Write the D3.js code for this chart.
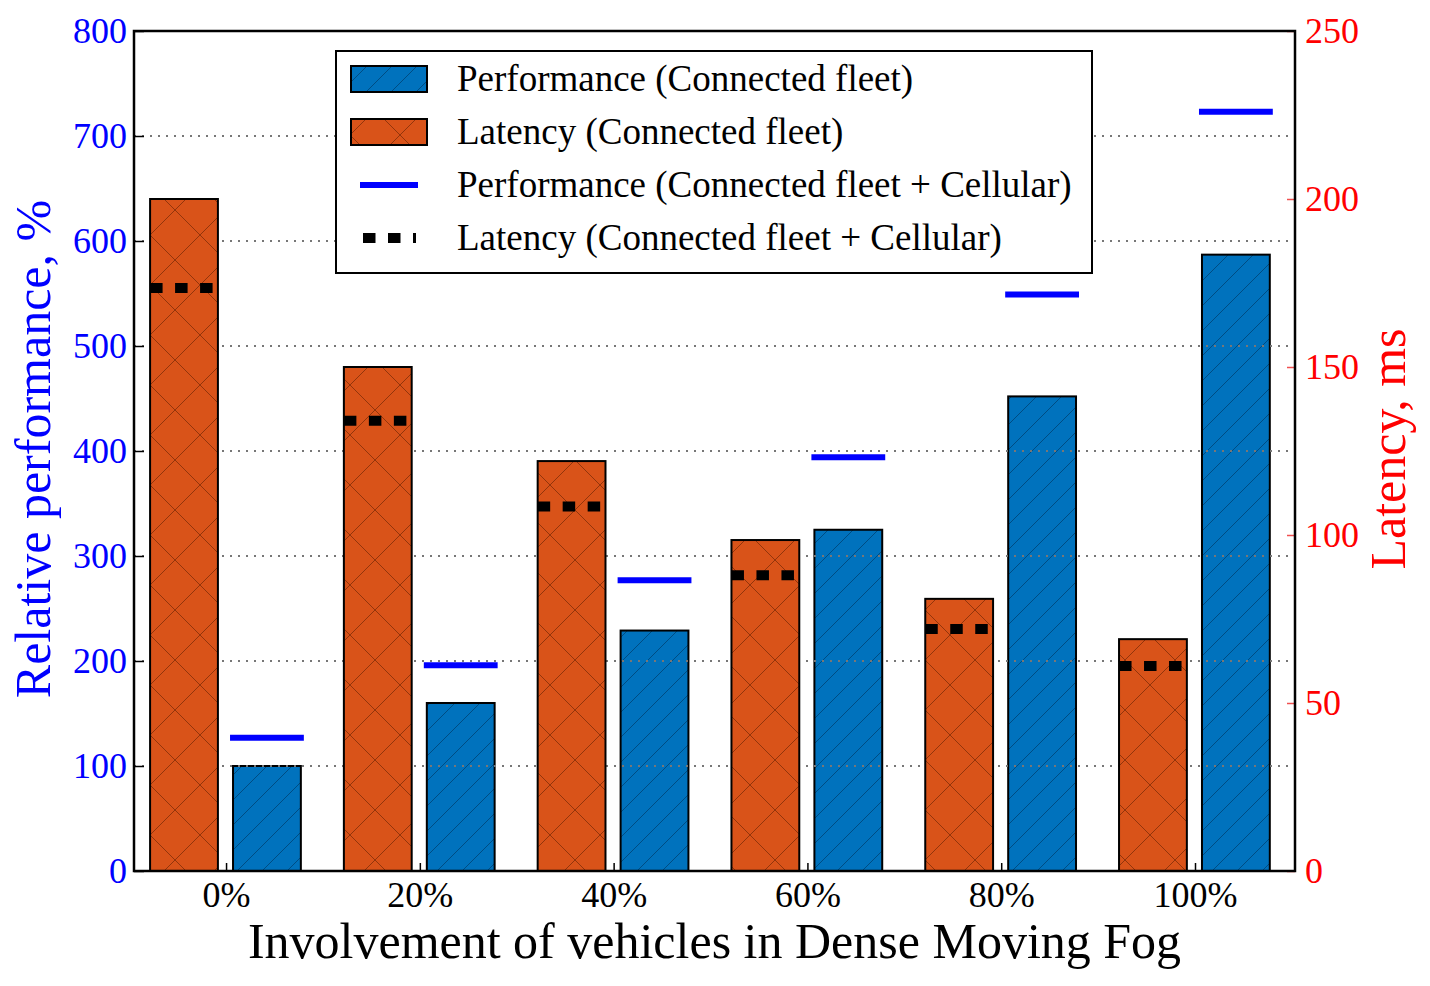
<!DOCTYPE html>
<html><head><meta charset="utf-8">
<script src="https://cdn.jsdelivr.net/npm/d3@7"></script>
<style>
body{margin:0;background:#fff}
svg{display:block}
text{font-family:"Liberation Serif","Times New Roman",serif}
</style>
</head><body>
<svg id="chart" width="1430" height="986"></svg>
<script>
// ---- data ----
const categories = ["0%", "20%", "40%", "60%", "80%", "100%"];
const perfFleet = [100, 160, 229, 325, 452, 587];
const perfCellular = [127, 196, 277, 394, 549, 723];
const latFleet = [200, 150, 122, 98.5, 81, 69];
const latCellular = [173.5, 134, 108.5, 88, 72, 61];
const leftTicks = [0, 100, 200, 300, 400, 500, 600, 700, 800];
const rightTicks = [0, 50, 100, 150, 200, 250];
const gridTicks = [100, 200, 300, 400, 500, 600, 700];
const legendLabels = [
  "Performance (Connected fleet)",
  "Latency (Connected fleet)",
  "Performance (Connected fleet + Cellular)",
  "Latency (Connected fleet + Cellular)"
];
const xTitle = "Involvement of vehicles in Dense Moving Fog";
const yLeftTitle = "Relative performance, %";
const yRightTitle = "Latency, ms";

// ---- style ----
const C_BLUE = "#0072BD", C_ORANGE = "#D95319";
const C_BLUE_HATCH = "#003f6e", C_ORANGE_HATCH = "#7a2a08";
const C_LINE = "#0000FF";

const svg = d3.select("#chart");
const L = 134, R = 1295, T = 31, B = 871;

const idx = categories.map((d, i) => i);
const x = d3.scaleLinear().domain([-0.475, 5.516]).range([L, R]);
const yL = d3.scaleLinear().domain([0, 800]).range([B, T]);
const yR = d3.scaleLinear().domain([0, 250]).range([B, T]);
const barW = x(0.35) - x(0);
const offOrange = -0.392, offBlue = 0.036;

// patterns
const defs = svg.append("defs");
const pB = defs.append("pattern").attr("id", "hatchBlue").attr("patternUnits", "userSpaceOnUse")
  .attr("width", 25).attr("height", 25).attr("x", 8).attr("y", 0);
pB.append("rect").attr("width", 25).attr("height", 25).attr("fill", C_BLUE);
[[-25, 25, 0, 0], [0, 25, 25, 0], [25, 25, 50, 0]].forEach(s =>
  pB.append("line").attr("x1", s[0]).attr("y1", s[1]).attr("x2", s[2]).attr("y2", s[3])
    .attr("stroke", C_BLUE_HATCH).attr("stroke-width", 1).attr("stroke-opacity", 0.75));
const pO = defs.append("pattern").attr("id", "hatchOrange").attr("patternUnits", "userSpaceOnUse")
  .attr("width", 50).attr("height", 50).attr("x", 25).attr("y", 10);
pO.append("rect").attr("width", 50).attr("height", 50).attr("fill", C_ORANGE);
[[0, 50, 50, 0], [-50, 50, 0, 0], [50, 50, 100, 0], [0, 0, 50, 50], [-50, 0, 0, 50], [50, 0, 100, 50]].forEach(s =>
  pO.append("line").attr("x1", s[0]).attr("y1", s[1]).attr("x2", s[2]).attr("y2", s[3])
    .attr("stroke", C_ORANGE_HATCH).attr("stroke-width", 1).attr("stroke-opacity", 0.75));

// ---- left axes content: blue bars, grid, blue lines ----
svg.append("g").selectAll("rect").data(idx).join("rect")
  .attr("x", i => x(i + offBlue)).attr("width", barW)
  .attr("y", i => yL(perfFleet[i])).attr("height", i => B - yL(perfFleet[i]))
  .attr("fill", "url(#hatchBlue)").attr("stroke", "#000").attr("stroke-width", 2);

svg.append("g").selectAll("line").data(gridTicks).join("line")
  .attr("x1", L).attr("x2", R).attr("y1", d => yL(d)).attr("y2", d => yL(d))
  .attr("stroke", "#777").attr("stroke-width", 2).attr("stroke-dasharray", "2,6");

svg.append("g").selectAll("line").data(idx).join("line")
  .attr("x1", i => x(i + offBlue)).attr("x2", i => x(i + offBlue) + barW)
  .attr("y1", i => yL(perfCellular[i])).attr("y2", i => yL(perfCellular[i]))
  .attr("stroke", C_LINE).attr("stroke-width", 6).attr("stroke-linecap", "square");

// ---- right axes content: orange bars, black dotted ----
svg.append("g").selectAll("rect").data(idx).join("rect")
  .attr("x", i => x(i + offOrange)).attr("width", barW)
  .attr("y", i => yR(latFleet[i])).attr("height", i => B - yR(latFleet[i]))
  .attr("fill", "url(#hatchOrange)").attr("stroke", "#000").attr("stroke-width", 2);

svg.append("g").selectAll("line").data(idx).join("line")
  .attr("x1", i => x(i + offOrange)).attr("x2", i => x(i + offOrange) + barW)
  .attr("y1", i => yR(latCellular[i])).attr("y2", i => yR(latCellular[i]))
  .attr("stroke", "#000").attr("stroke-width", 10).attr("stroke-dasharray", "12.5,12.5");

// ---- axes ----
const gL = svg.append("g").attr("transform", `translate(${L},0)`)
  .call(d3.axisLeft(yL).tickValues(leftTicks).tickSizeInner(-10).tickSizeOuter(0).tickPadding(7));
gL.select(".domain").remove();
gL.selectAll(".tick line").attr("stroke", "#000").attr("stroke-width", 1.5);
gL.selectAll(".tick text").attr("fill", "#0000FF").attr("font-size", 36)
  .attr("font-family", '"Liberation Serif",serif');

const gR = svg.append("g").attr("transform", `translate(${R},0)`)
  .call(d3.axisRight(yR).tickValues(rightTicks).tickSizeInner(-8).tickSizeOuter(0).tickPadding(10));
gR.select(".domain").remove();
gR.selectAll(".tick line").attr("stroke", "#f05050").attr("stroke-width", 1.5);
gR.selectAll(".tick text").attr("fill", "#FF0000").attr("font-size", 36)
  .attr("font-family", '"Liberation Serif",serif');

const gB = svg.append("g").attr("transform", `translate(0,${B})`)
  .call(d3.axisBottom(x).tickValues(idx).tickFormat(i => categories[i]).tickSizeInner(-8).tickSizeOuter(0).tickPadding(10));
gB.select(".domain").remove();
gB.selectAll(".tick line").attr("stroke", "#000").attr("stroke-width", 1.5);
gB.selectAll(".tick text").attr("fill", "#000").attr("font-size", 36)
  .attr("font-family", '"Liberation Serif",serif');

// frame
svg.append("rect").attr("x", L).attr("y", T).attr("width", R - L).attr("height", B - T)
  .attr("fill", "none").attr("stroke", "#000").attr("stroke-width", 2.5);

// titles
svg.append("text").attr("x", (L + R) / 2).attr("y", 958).attr("text-anchor", "middle")
  .attr("font-size", 50).attr("fill", "#000").text(xTitle);
svg.append("text").attr("transform", `translate(50,${(T + B) / 2 - 2}) rotate(-90)`).attr("text-anchor", "middle")
  .attr("font-size", 50).attr("fill", "#0000FF").text(yLeftTitle);
svg.append("text").attr("transform", `translate(1405,${(T + B) / 2 - 2}) rotate(-90)`).attr("text-anchor", "middle")
  .attr("font-size", 50).attr("fill", "#FF0000").text(yRightTitle);

// ---- legend ----
const lg = svg.append("g");
lg.append("rect").attr("x", 336).attr("y", 51).attr("width", 756).attr("height", 222)
  .attr("fill", "#fff").attr("stroke", "#000").attr("stroke-width", 2);
const rowY = k => 79 + 53 * k;
lg.append("rect").attr("x", 351).attr("y", rowY(0) - 13).attr("width", 76).attr("height", 26)
  .attr("fill", "url(#hatchBlue)").attr("stroke", "#000").attr("stroke-width", 2);
lg.append("rect").attr("x", 351).attr("y", rowY(1) - 13).attr("width", 76).attr("height", 26)
  .attr("fill", "url(#hatchOrange)").attr("stroke", "#000").attr("stroke-width", 2);
lg.append("line").attr("x1", 363).attr("x2", 415).attr("y1", rowY(2)).attr("y2", rowY(2))
  .attr("stroke", C_LINE).attr("stroke-width", 6).attr("stroke-linecap", "square");
lg.append("line").attr("x1", 363).attr("x2", 416).attr("y1", rowY(3)).attr("y2", rowY(3))
  .attr("stroke", "#000").attr("stroke-width", 10).attr("stroke-dasharray", "12.5,12.5");
lg.selectAll("text.lab").data(legendLabels).join("text").attr("class", "lab")
  .attr("x", 457).attr("y", (d, k) => rowY(k) + 12).attr("font-size", 37).attr("fill", "#000").text(d => d);
</script>
</body></html>
